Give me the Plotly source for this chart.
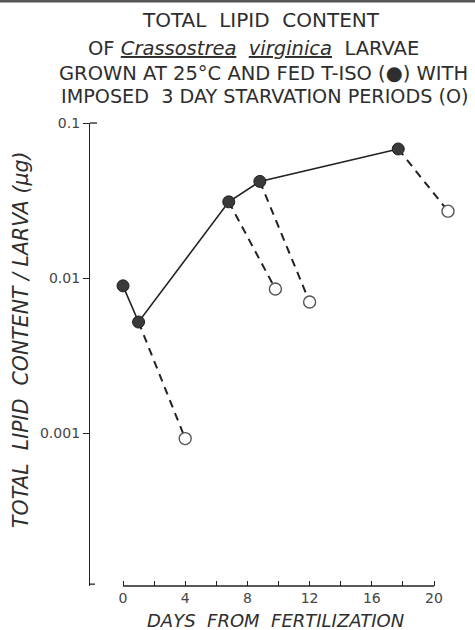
import plotly.graph_objects as go

# Larvae fed T-ISO (filled circles)
fed_days = [0.0, 1.0, 6.8, 8.8, 17.7]
fed_lipid = [0.0089, 0.0052, 0.031, 0.042, 0.068]

# Same cohorts after an imposed 3-day starvation (open circles)
starved_days = [4.0, 9.8, 12.0, 20.9]
starved_lipid = [0.00092, 0.0085, 0.0070, 0.027]
starve_from = [1, 2, 3, 4]  # fed sample at which each starvation period begins

x_ticks = [0, 4, 8, 12, 16, 20]
x_minor = [2, 6, 10, 14, 18]
y_ticks = [0.1, 0.01, 0.001]
y_labels = ["0.1", "0.01", "0.001"]

title_lines = [
    "TOTAL  LIPID  CONTENT",
    "OF <i><u>Crassostrea</u></i>  <i><u>virginica</u></i>  LARVAE",
    "GROWN AT 25°C AND FED T-ISO (●) WITH",
    "IMPOSED  3 DAY STARVATION PERIODS (O)",
]
title_sizes = [20, 19.5, 19.5, 19.2]
x_title = "DAYS  FROM  FERTILIZATION"
y_title = "TOTAL  LIPID  CONTENT / LARVA (μg)"

# page geometry (pixels)
W, H = 475, 630
ML, MR, MT, MB = 90, 10, 123, 44
plot_w = W - ML - MR
plot_h = H - MT - MB
day0_px = 123.0
px_per_day = 15.55
decade_px = 155.0

x_lo = (ML - day0_px) / px_per_day
x_hi = (W - MR - day0_px) / px_per_day
y_hi = -1.0
y_lo = y_hi - plot_h / decade_px


def px_to_paper_x(px):
    return (px - ML) / plot_w


def px_to_paper_y(py):
    return (H - MB - py) / plot_h


FONT = "DejaVu Sans"
INK = "#222222"
TXT = "#2e2e2e"

fig = go.Figure()

# fed growth curve
fig.add_trace(go.Scatter(
    x=fed_days, y=fed_lipid, mode="lines",
    line=dict(color=INK, width=1.6), hoverinfo="skip", showlegend=False,
))

# starvation drops
dx, dy = [], []
for i, k in enumerate(starve_from):
    dx += [fed_days[k], starved_days[i], None]
    dy += [fed_lipid[k], starved_lipid[i], None]
fig.add_trace(go.Scatter(
    x=dx, y=dy, mode="lines",
    line=dict(color=INK, width=2, dash="8px,6px"), hoverinfo="skip", showlegend=False,
))

fig.add_trace(go.Scatter(
    x=fed_days, y=fed_lipid, mode="markers",
    marker=dict(size=12, color="#3a3a3a", line=dict(color="#1e1e1e", width=1)),
    showlegend=False,
))
fig.add_trace(go.Scatter(
    x=starved_days, y=starved_lipid, mode="markers",
    marker=dict(size=12, color="white", line=dict(color="#555555", width=1.4)),
    showlegend=False,
))

fig.update_xaxes(
    range=[x_lo, x_hi], showline=False, showgrid=False, zeroline=False,
    tickmode="array", tickvals=x_ticks, ticktext=[str(v) for v in x_ticks],
    ticks="inside", ticklen=5, tickwidth=1.2, tickcolor=INK,
    minor=dict(tickmode="array", tickvals=x_minor, ticks="inside",
               ticklen=5, tickwidth=1.2, tickcolor=INK),
    tickfont=dict(family=FONT, size=14, color="#444444"),
    ticklabelstandoff=2,
)
fig.update_yaxes(
    type="log", range=[y_lo, y_hi], showline=True, linecolor=INK, linewidth=1.3,
    showgrid=False, zeroline=False,
    tickmode="array", tickvals=y_ticks, ticktext=y_labels,
    ticks="outside", ticklen=6, tickwidth=1.2, tickcolor=INK,
    tickfont=dict(family=FONT, size=14, color="#444444"),
)

shapes = [
    # x axis line spanning day 0 to day 20
    dict(type="line", xref="x", yref="paper", x0=x_ticks[0], x1=x_ticks[-1], y0=0, y1=0,
         line=dict(color=INK, width=1.3)),
    # short stubs at the ends of the y axis
    dict(type="line", xref="paper", yref="paper", x0=0, x1=px_to_paper_x(ML + 7), y0=1, y1=1,
         line=dict(color=INK, width=1.3)),
    dict(type="line", xref="paper", yref="paper", x0=0, x1=px_to_paper_x(ML + 5), y0=0.004, y1=0.004,
         line=dict(color=INK, width=1.3)),
    # page edge at the top
    dict(type="line", xref="paper", yref="paper", x0=px_to_paper_x(0), x1=px_to_paper_x(W),
         y0=px_to_paper_y(1), y1=px_to_paper_y(1), line=dict(color="#555555", width=3)),
]

annotations = []
for line, size, cx, py in zip(title_lines, title_sizes, [261, 253, 263, 265], [20.5, 48, 73, 97]):
    annotations.append(dict(
        text=line, xref="paper", yref="paper", x=px_to_paper_x(cx), y=px_to_paper_y(py),
        xanchor="center", yanchor="middle", showarrow=False,
        font=dict(family=FONT, size=size, color=TXT),
    ))
annotations.append(dict(
    text=f"<i>{x_title}</i>", xref="paper", yref="paper",
    x=px_to_paper_x(275), y=px_to_paper_y(620), xanchor="center", yanchor="middle",
    showarrow=False, font=dict(family=FONT, size=18, color=TXT),
))
annotations.append(dict(
    text=f"<i>{y_title}</i>", xref="paper", yref="paper", textangle=-90,
    x=px_to_paper_x(21), y=px_to_paper_y(340), xanchor="center", yanchor="middle",
    showarrow=False, font=dict(family=FONT, size=20.5, color=TXT),
))

fig.update_layout(
    width=W, height=H,
    margin=dict(l=ML, r=MR, t=MT, b=MB, pad=0),
    paper_bgcolor="white", plot_bgcolor="white",
    showlegend=False, shapes=shapes, annotations=annotations,
)

fig.write_html("out.html", config={"displayModeBar": False})
